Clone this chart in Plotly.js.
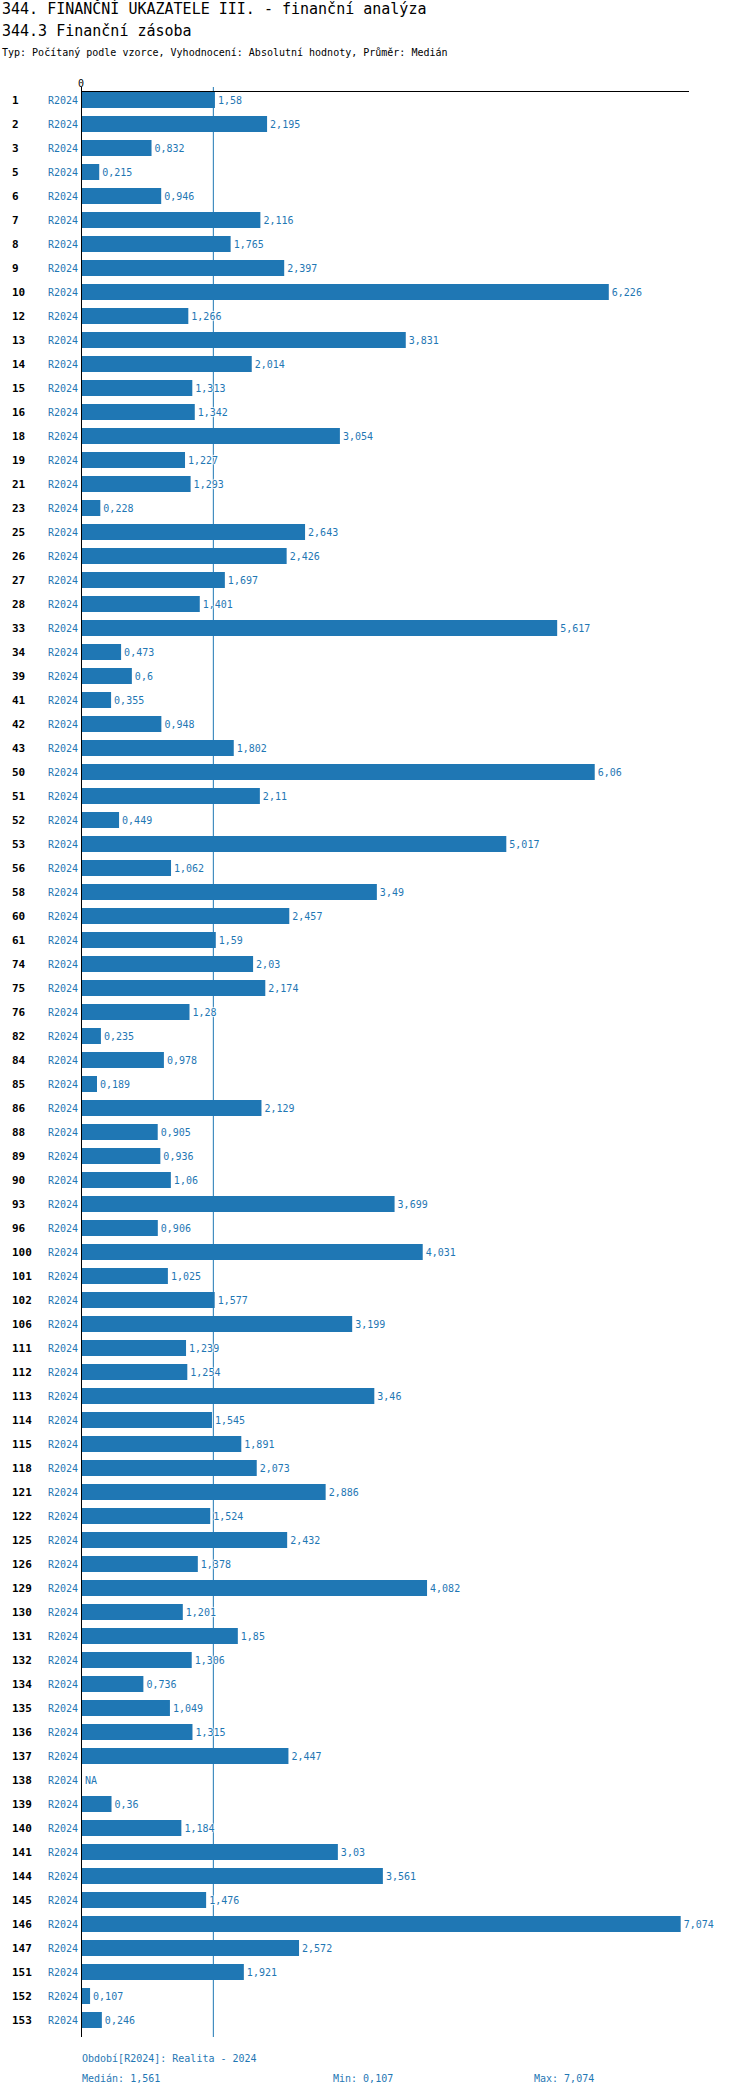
<!DOCTYPE html>
<html>
<head>
<meta charset="utf-8">
<script src="https://cdn.plot.ly/plotly-3.0.1.min.js"></script>
<style>html,body{margin:0;padding:0;background:#fff;}</style>
</head>
<body>
<div id="chart" style="width:750px;height:2096px;"></div>
<script>
// ---- data ----
const rowIds = ["1","2","3","5","6","7","8","9","10","12","13","14","15","16","18","19","21","23","25","26","27","28","33","34","39","41","42","43","50","51","52","53","56","58","60","61","74","75","76","82","84","85","86","88","89","90","93","96","100","101","102","106","111","112","113","114","115","118","121","122","125","126","129","130","131","132","134","135","136","137","138","139","140","141","144","145","146","147","151","152","153"];
const values = [1.58,2.195,0.832,0.215,0.946,2.116,1.765,2.397,6.226,1.266,3.831,2.014,1.313,1.342,3.054,1.227,1.293,0.228,2.643,2.426,1.697,1.401,5.617,0.473,0.6,0.355,0.948,1.802,6.06,2.11,0.449,5.017,1.062,3.49,2.457,1.59,2.03,2.174,1.28,0.235,0.978,0.189,2.129,0.905,0.936,1.06,3.699,0.906,4.031,1.025,1.577,3.199,1.239,1.254,3.46,1.545,1.891,2.073,2.886,1.524,2.432,1.378,4.082,1.201,1.85,1.306,0.736,1.049,1.315,2.447,null,0.36,1.184,3.03,3.561,1.476,7.074,2.572,1.921,0.107,0.246];
const periodLabel = "R2024";
const titleText = "344. FINANČNÍ UKAZATELE III. - finanční analýza";
const subtitleText = "344.3 Finanční zásoba";
const infoText = "Typ: Počítaný podle vzorce, Vyhodnocení: Absolutní hodnoty, Průměr: Medián";
const periodText = "Období[R2024]: Realita - 2024";

// ---- helpers ----
const fmt = v => String(v).replace('.', ',');
const valid = values.filter(v => v !== null).slice().sort((a,b)=>a-b);
const n = valid.length;
const medianVal = n % 2 ? valid[(n-1)/2] : Math.round(((valid[n/2-1] + valid[n/2]) / 2) * 1000) / 1000;
const minVal = valid[0];
const maxVal = valid[n-1];

const W = 750, H = 2096;
const L = 81, R = 689, T = 92, B = 2037;
const pw = R - L, ph = B - T;
const px = x => (x - L) / pw;
const py = y => (B - y) / ph;

const FONT = "DejaVu Sans Mono, Liberation Mono, monospace";
const BLUE = "#1f77b4";

const trace = {
  type: 'bar',
  orientation: 'h',
  y: rowIds,
  x: values,
  marker: {color: BLUE},
  text: values.map(v => v === null ? '' : fmt(v)),
  textposition: 'outside',
  constraintext: 'none',
  cliponaxis: false,
  textfont: {family: FONT, size: 10, color: BLUE, shadow: '1px 0 1px #fff, -1px 0 1px #fff, 0 1px 1px #fff, 0 -1px 1px #fff'},
  hoverinfo: 'x+y',
  showlegend: false
};

const annotations = [];
// row numbers (category index positions)
rowIds.forEach((id, i) => {
  annotations.push({
    xref: 'paper', yref: 'y', x: px(10), y: i, xanchor: 'left', yanchor: 'middle',
    text: '<b>' + id + '</b>', showarrow: false,
    font: {family: FONT, size: 11, color: '#000'}
  });
});
// NA markers
values.forEach((v, i) => {
  if (v === null) {
    annotations.push({
      xref: 'x', yref: 'y', x: 0, y: i, xanchor: 'left', yanchor: 'middle', xshift: 2,
      text: 'NA', showarrow: false, font: {family: FONT, size: 10, color: BLUE}
    });
  }
});
// titles
annotations.push({xref:'paper', yref:'paper', x: px(0), y: py(9), xanchor:'left', yanchor:'middle', text: titleText, showarrow:false, font:{family:FONT, size:15, color:'#000'}});
annotations.push({xref:'paper', yref:'paper', x: px(0), y: py(31), xanchor:'left', yanchor:'middle', text: subtitleText, showarrow:false, font:{family:FONT, size:15, color:'#000'}});
annotations.push({xref:'paper', yref:'paper', x: px(0), y: py(52), xanchor:'left', yanchor:'middle', text: infoText, showarrow:false, font:{family:FONT, size:10, color:'#000'}});
// footer
annotations.push({xref:'paper', yref:'paper', x: px(80), y: py(2058), xanchor:'left', yanchor:'middle', text: periodText, showarrow:false, font:{family:FONT, size:10, color:BLUE}});
annotations.push({xref:'paper', yref:'paper', x: px(80), y: py(2078), xanchor:'left', yanchor:'middle', text: 'Medián: ' + fmt(medianVal), showarrow:false, font:{family:FONT, size:10, color:BLUE}});
annotations.push({xref:'paper', yref:'paper', x: px(331), y: py(2078), xanchor:'left', yanchor:'middle', text: 'Min: ' + fmt(minVal), showarrow:false, font:{family:FONT, size:10, color:BLUE}});
annotations.push({xref:'paper', yref:'paper', x: px(532), y: py(2078), xanchor:'left', yanchor:'middle', text: 'Max: ' + fmt(maxVal), showarrow:false, font:{family:FONT, size:10, color:BLUE}});

const rowPx = 24;
const topIdx = -(100 - T) / rowPx; // row 0 centre at y=100
const botIdx = topIdx + ph / rowPx;

const layout = {
  width: W, height: H,
  margin: {l: L, r: W - R, t: T, b: H - B, pad: 0},
  paper_bgcolor: '#fff', plot_bgcolor: '#fff',
  bargap: 1/3,
  showlegend: false,
  font: {family: FONT, size: 10, color: '#000'},
  xaxis: {
    side: 'top', range: [0, 7.172], fixedrange: true,
    tickvals: [0], ticktext: ['0'], ticks: '', ticklen: 0,
    tickfont: {family: FONT, size: 10, color: '#000'},
    showline: true, linecolor: '#000', linewidth: 1,
    showgrid: false, zeroline: false
  },
  yaxis: {
    type: 'category', categoryorder: 'array', categoryarray: rowIds,
    range: [botIdx, topIdx], fixedrange: true,
    tickvals: rowIds, ticktext: rowIds.map(() => periodLabel),
    tickfont: {family: FONT, size: 10, color: BLUE},
    ticks: '', ticklabelstandoff: 2,
    showline: false, showgrid: false, zeroline: false
  },
  shapes: [
    {type:'line', xref:'x', yref:'paper', x0: medianVal, x1: medianVal, y0: 0, y1: py(87), line:{color: BLUE, width: 1}, layer:'below'},
    {type:'line', xref:'x', yref:'paper', x0: 0, x1: 0, y0: 0, y1: py(87), line:{color: '#000', width: 2}, layer:'above'}
  ],
  annotations: annotations
};

Plotly.newPlot('chart', [trace], layout, {displayModeBar: false, staticPlot: true});
</script>
</body>
</html>
